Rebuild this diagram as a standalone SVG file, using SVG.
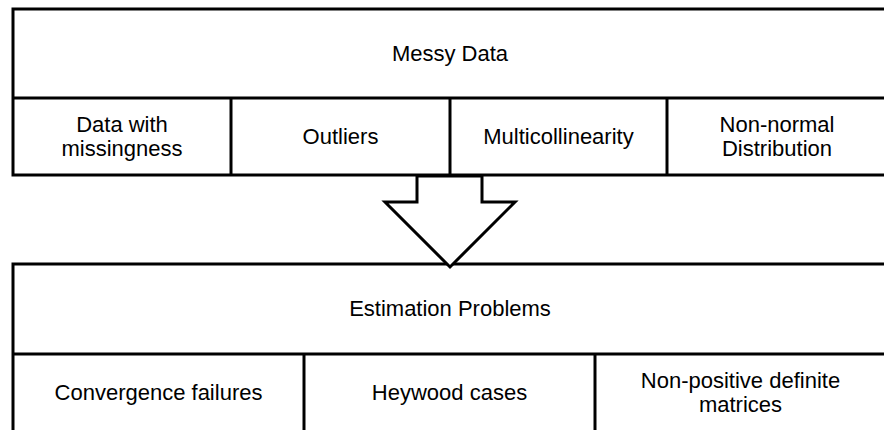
<svg xmlns="http://www.w3.org/2000/svg" width="884" height="430" viewBox="0 0 884 430">
<style>
.box{fill:#fff;stroke:#000;stroke-width:3}
.ln{stroke:#000;stroke-width:3;fill:none}
text{font-family:"Liberation Sans",Arial,sans-serif;font-size:22px;fill:#000;text-anchor:middle}
</style>
<rect width="884" height="430" fill="#fff"/>
<g id="messy-data">
<rect class="box" x="13" y="9" width="874" height="166"/>
<line class="ln" x1="13" y1="98" x2="887" y2="98"/>
<text x="450" y="61">Messy Data</text>
</g>
<g id="data-with-missingness">
<text x="122" y="132">Data with</text>
<text x="122" y="156">missingness</text>
</g>
<g id="outliers">
<line class="ln" x1="231" y1="98" x2="231" y2="175"/>
<text x="340.5" y="144">Outliers</text>
</g>
<g id="multicollinearity">
<line class="ln" x1="450" y1="98" x2="450" y2="175"/>
<text x="558.5" y="144">Multicollinearity</text>
</g>
<g id="non-normal">
<line class="ln" x1="667" y1="98" x2="667" y2="175"/>
<text x="777" y="132">Non-normal</text>
<text x="777" y="156">Distribution</text>
</g>
<g id="estimation-problems">
<rect class="box" x="13" y="264" width="874" height="170"/>
<line class="ln" x1="13" y1="354" x2="887" y2="354"/>
<text x="450" y="316">Estimation Problems</text>
</g>
<g id="convergence-failures">
<text x="158.5" y="400">Convergence failures</text>
</g>
<g id="heywood-cases">
<line class="ln" x1="304" y1="354" x2="304" y2="432"/>
<text x="449.5" y="400">Heywood cases</text>
</g>
<g id="non-positive-definite">
<line class="ln" x1="595" y1="354" x2="595" y2="432"/>
<text x="740.5" y="388">Non-positive definite</text>
<text x="740.5" y="412">matrices</text>
</g>
<g id="connectors">
<polygon class="box" points="417,176 417,202 385,202 450,267 515,202 482,202 482,176" stroke-linejoin="miter"/>
</g>
</svg>
